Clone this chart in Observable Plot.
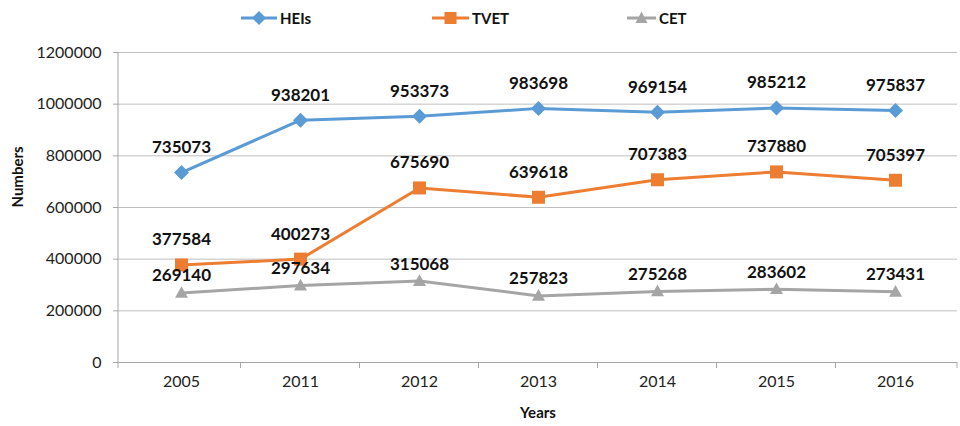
<!DOCTYPE html>
<html>
<head>
<meta charset="utf-8">
<script src="https://cdn.jsdelivr.net/npm/d3@7"></script>
<script src="https://cdn.jsdelivr.net/npm/@observablehq/plot@0.6"></script>
<style>
  html, body { margin: 0; padding: 0; background: #fff; }
  body { width: 960px; height: 426px; overflow: hidden; font-family: Lato, "Open Sans", sans-serif; }
  #legend { position: relative; height: 40px; width: 960px; }
  .item { position: absolute; top: 6px; height: 24px; display: flex; align-items: center; font-weight: bold; font-size: 15px; color: #111; }
  .item svg { display: block; margin-right: 3px; }
</style>
</head>
<body>
<div id="legend"></div>
<div id="chart"></div>
<script>
const years = ["2005", "2011", "2012", "2013", "2014", "2015", "2016"];
const heis = [735073, 938201, 953373, 983698, 969154, 985212, 975837];
const tvet = [377584, 400273, 675690, 639618, 707383, 737880, 705397];
const cet  = [269140, 297634, 315068, 257823, 275268, 283602, 273431];
const seriesNames = ["HEIs", "TVET", "CET"];
const seriesColors = ["#5b9bd5", "#ed7d31", "#a5a5a5"];
const yTicks = [0, 200000, 400000, 600000, 800000, 1000000, 1200000];

// custom symbols (size = PI * r^2 as Plot passes)
const diamond = {draw(ctx, size) { const s = Math.sqrt(size / Math.PI); ctx.moveTo(0, -s); ctx.lineTo(s, 0); ctx.lineTo(0, s); ctx.lineTo(-s, 0); ctx.closePath(); }};
const square = {draw(ctx, size) { const s = Math.sqrt(size / Math.PI); ctx.rect(-s, -s, 2 * s, 2 * s); }};
const triangle = {draw(ctx, size) { const s = Math.sqrt(size / Math.PI); ctx.moveTo(0, -s * 1.05); ctx.lineTo(s, s * 0.75); ctx.lineTo(-s, s * 0.75); ctx.closePath(); }};
const symbols = [diamond, square, triangle];
const symR = [7.5, 6.5, 6.5];
const labelDy = [-25, -25, -17];

const allValues = [heis, tvet, cet];
const rows = allValues.map((vals, si) => years.map((yr, i) => ({series: seriesNames[si], year: yr, value: vals[i]})));

// Legend (HTML, above the SVG)
const legendPos = [{left: 241, lineW: 36}, {left: 432, lineW: 37}, {left: 627, lineW: 29}];
const legend = document.getElementById("legend");
seriesNames.forEach((name, i) => {
  const p = legendPos[i];
  const div = document.createElement("div");
  div.className = "item";
  div.style.left = p.left + "px";
  const w = p.lineW;
  const c = seriesColors[i];
  const cx = w / 2, cy = 12;
  let shape;
  if (i === 0) shape = `<path d="M${cx},${cy-7}L${cx+7},${cy}L${cx},${cy+7}L${cx-7},${cy}Z" fill="${c}"/>`;
  else if (i === 1) shape = `<rect x="${cx-6}" y="${cy-6}" width="12" height="12" fill="${c}"/>`;
  else shape = `<path d="M${cx},${cy-6.5}L${cx+6},${cy+5}L${cx-6},${cy+5}Z" fill="${c}"/>`;
  div.innerHTML = `<svg width="${w}" height="24"><line x1="0" x2="${w}" y1="${cy}" y2="${cy}" stroke="${c}" stroke-width="3"/>${shape}</svg><span>${name}</span>`;
  legend.appendChild(div);
});

const W = 960, H = 386;
const mL = 118, mR = 3, mT = 12, mB = 64;

// custom render: vertical y-axis line and x-axis category boundary ticks
function axisDecor(index, scales, values, dimensions) {
  const {width, height, marginLeft, marginRight, marginTop, marginBottom} = dimensions;
  const g = d3.create("svg:g");
  const y0 = height - marginBottom;
  g.append("line").attr("x1", marginLeft).attr("x2", marginLeft).attr("y1", marginTop).attr("y2", y0)
    .attr("stroke", "#a6a6a6").attr("stroke-width", 1);
  const xs = years.map(d => scales.x(d));
  const bounds = [marginLeft];
  for (let i = 0; i < xs.length - 1; i++) bounds.push((xs[i] + xs[i + 1]) / 2);
  bounds.push(width - marginRight);
  bounds.forEach(b => g.append("line").attr("x1", b).attr("x2", b).attr("y1", y0).attr("y2", y0 + 6)
    .attr("stroke", "#a6a6a6").attr("stroke-width", 1));
  return g.node();
}

const marks = [
  Plot.gridY(yTicks, {stroke: "#bfbfbf", strokeOpacity: 1, strokeWidth: 1}),
  Plot.ruleY([0], {stroke: "#a6a6a6", strokeWidth: 1}),
  Plot.axisY(yTicks, {tickFormat: d3.format("d"), tickSize: 5, tickPadding: 12, stroke: "#a6a6a6",
    fontSize: 16, fill: "#222", label: null}),
  Plot.axisX({tickSize: 0, tickPadding: 13, fontSize: 16, fill: "#222", label: null}),
  axisDecor,
  Plot.text(["Numbers"], {frameAnchor: "left", dx: -100, rotate: -90, fontSize: 15, fontWeight: "bold", fill: "#111"}),
  Plot.text(["Years"], {frameAnchor: "bottom", dy: 55, fontSize: 15, fontWeight: "bold", fill: "#111"})
];
rows.forEach((data, si) => {
  marks.push(Plot.line(data, {x: "year", y: "value", stroke: seriesColors[si], strokeWidth: 3}));
  marks.push(Plot.dot(data, {x: "year", y: "value", symbol: symbols[si], r: symR[si], fill: seriesColors[si], stroke: "none"}));
});
rows.forEach((data, si) => {
  marks.push(Plot.text(data, {x: "year", y: "value", text: d => String(d.value), dy: labelDy[si],
    fontSize: 17, fontWeight: "bold", fill: "#111"}));
});

const chart = Plot.plot({
  width: W, height: H,
  marginLeft: mL, marginRight: mR, marginTop: mT, marginBottom: mB,
  style: {fontFamily: "Lato, 'Open Sans', sans-serif", background: "#fff"},
  x: {type: "point", domain: years, padding: 0.5, axis: null},
  y: {domain: [0, 1200000], axis: null},
  marks
});
document.getElementById("chart").appendChild(chart);
</script>
</body>
</html>
